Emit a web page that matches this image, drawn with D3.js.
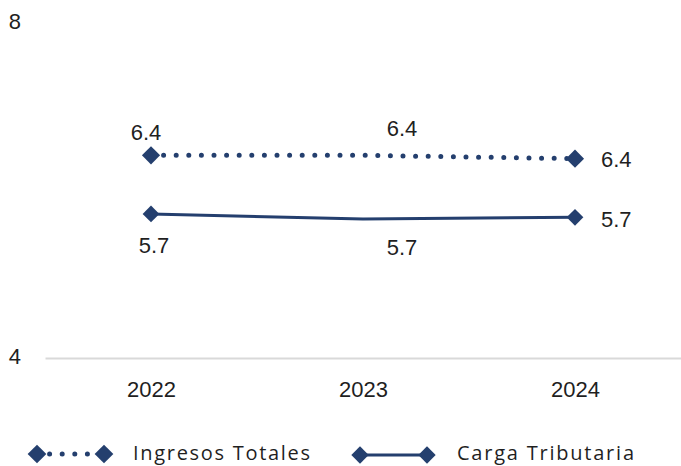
<!DOCTYPE html>
<html>
<head>
<meta charset="utf-8">
<script src="https://cdn.jsdelivr.net/npm/d3@7"></script>
<style>
  html, body { margin: 0; padding: 0; background: #fff; overflow: hidden; }
  svg { display: block; }
</style>
</head>
<body>
<div id="rootDiv"></div>
<script>
// Data
const years = ["2022", "2023", "2024"]
const ingresosTotales = [6.42, 6.42, 6.38]
const cargaTributaria = [5.72, 5.66, 5.68]
const seriesNames = ["Ingresos Totales", "Carga Tributaria"]
const yTicks = [4, 8]

// Dimensions
const W = 681, H = 466
const navy = "#243f6e"
const textColor = "#1f1f1f"
const numFont = "'Liberation Sans', Arial, sans-serif"

const x = d3.scalePoint()
    .domain(years)
    .range([45, W])
    .padding(0.5)

const y = d3.scaleLinear()
    .domain([4, 8])
    .range([358, 23])

const svg = d3.select("#rootDiv")
    .append("svg")
    .attr("width", W)
    .attr("height", H)

// y labels (no axis line, no ticks)
const yAxis = svg.append("g")
    .attr("transform", "translate(21,0)")
    .call(d3.axisLeft(y).tickValues(yTicks).tickSize(0).tickPadding(0).tickFormat(d3.format("d")))
yAxis.select(".domain").remove()
yAxis.selectAll("text")
    .attr("dy", "-0.1em")
    .attr("y", 8)
    .style("font-family", numFont)
    .style("font-size", "22px")
    .style("fill", textColor)

// x axis
const xAxis = svg.append("g")
    .attr("transform", `translate(0,${y(4)})`)
    .call(d3.axisBottom(x).tickSize(0).tickPadding(23))
xAxis.select(".domain")
    .attr("stroke", "#d9d9d9")
    .attr("stroke-width", 2)
xAxis.selectAll("text")
    .style("font-family", numFont)
    .style("font-size", "22px")
    .style("fill", textColor)

const line = d3.line()
    .x((d, i) => x(years[i]))
    .y(d => y(d))

const diamond = (size) => d3.symbol(d3.symbolSquare, size)

// Ingresos Totales: dotted line
svg.append("path")
    .datum(ingresosTotales)
    .attr("fill", "none")
    .attr("stroke", navy)
    .attr("stroke-width", 5)
    .attr("stroke-linecap", "round")
    .attr("stroke-dasharray", "0 12.6")
    .attr("d", line)

// Carga Tributaria: solid line
svg.append("path")
    .datum(cargaTributaria)
    .attr("fill", "none")
    .attr("stroke", navy)
    .attr("stroke-width", 3)
    .attr("d", line)

// markers only on first and last point
function addMarkers(values, size) {
    const idx = [0, values.length - 1]
    svg.append("g")
        .selectAll("path")
        .data(idx)
        .enter()
        .append("path")
        .attr("d", diamond(size))
        .attr("fill", navy)
        .attr("transform", i => `translate(${x(years[i])},${y(values[i])}) rotate(45)`)
}
addMarkers(ingresosTotales, 165)
addMarkers(cargaTributaria, 140)

// data labels: [dx, dy] relative to the point
const fmt = d3.format(".1f")
const ingresosOffsets = [[-5, -23], [39, -27], [26, 0]]
const cargaOffsets = [[3, 31], [39, 28], [26, 2]]

function addLabels(values, offsets) {
    svg.append("g")
        .selectAll("text")
        .data(values)
        .enter()
        .append("text")
        .attr("x", (d, i) => x(years[i]) + offsets[i][0])
        .attr("y", (d, i) => y(d) + offsets[i][1])
        .attr("dy", "0.36em")
        .attr("text-anchor", (d, i) => i == values.length - 1 ? "start" : "middle")
        .style("font-family", numFont)
        .style("font-size", "22px")
        .style("fill", textColor)
        .text(d => fmt(d))
}
addLabels(ingresosTotales, ingresosOffsets)
addLabels(cargaTributaria, cargaOffsets)

// Legend
const legendItems = [
    { name: seriesNames[0], x0: 37, x1: 104, yc: 454, dotted: true, textX: 133, size: 175 },
    { name: seriesNames[1], x0: 360, x1: 427, yc: 455, dotted: false, textX: 457, size: 150 }
]
const legend = svg.selectAll(".legend")
    .data(legendItems)
    .enter()
    .append("g")
    .attr("class", "legend")

legend.append("line")
    .attr("x1", d => d.x0)
    .attr("x2", d => d.x1)
    .attr("y1", d => d.yc)
    .attr("y2", d => d.yc)
    .attr("stroke", navy)
    .attr("stroke-width", d => d.dotted ? 5 : 3)
    .attr("stroke-linecap", d => d.dotted ? "round" : "butt")
    .attr("stroke-dasharray", d => d.dotted ? "0 12.6" : null)

legend.each(function (d) {
    d3.select(this).selectAll("path")
        .data([d.x0, d.x1])
        .enter()
        .append("path")
        .attr("d", diamond(d.size))
        .attr("fill", navy)
        .attr("transform", px => `translate(${px},${d.yc}) rotate(45)`)
})

legend.append("text")
    .attr("x", d => d.textX)
    .attr("y", 460)
    .attr("textLength", 177)
    .attr("lengthAdjust", "spacing")
    .style("font-family", "'Open Sans', 'Noto Sans', sans-serif")
    .style("font-size", "20px")
    .style("fill", textColor)
    .text(d => d.name)
</script>
</body>
</html>
